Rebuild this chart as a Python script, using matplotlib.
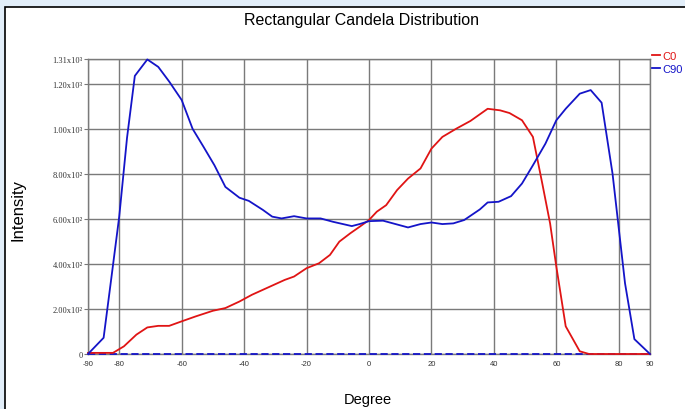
import matplotlib
matplotlib.use("Agg")
import matplotlib.pyplot as plt
from matplotlib.patches import Rectangle

# C90 (blue) - degree / candela
c90_deg = [-90, -85, -82.5, -80, -77.5, -75, -71, -67.5, -64, -60, -56.5, -53, -49.5, -46, -41.5, -38.5,
           -34, -31, -28, -24, -20, -15.5, -11.5, -5.5, -3, 0, 4.5, 8.5, 12.5, 16.5, 20, 23.5, 27, 30.5,
           35.5, 38, 41.5, 45.5, 49, 52.5, 56.5, 60, 63, 67.5, 71, 74.5, 78, 82, 85, 90]
c90_val = [0, 72, 340, 610, 960, 1235, 1308, 1275, 1210, 1128, 1000, 920, 838, 742, 694, 680,
           640, 610, 602, 612, 602, 602, 587, 568, 577, 590, 592, 577, 562, 577, 584, 577, 580, 595,
           642, 673, 676, 701, 757, 838, 934, 1038, 1089, 1156, 1172, 1116, 801, 314, 66, 0]

# C0 (red)
c0_deg = [-90, -82, -78.5, -74.5, -71, -67.5, -64, -60, -55.5, -50, -46, -41.5, -37.5, -34, -30.5, -27,
          -24, -20, -16, -12.5, -9.5, -6, -3, 0, 2.5, 5.5, 9, 12.5, 16.5, 20, 23.5, 28, 32.5, 38,
          42, 45, 49, 52.5, 55.5, 58, 60, 63, 67.5, 70.5, 90]
c0_val = [5, 5, 34, 86, 118, 125, 125, 145, 167, 192, 204, 233, 263, 285, 307, 329,
          344, 381, 403, 440, 499, 536, 565, 595, 632, 661, 728, 779, 824, 912, 964, 1001, 1035, 1089,
          1082, 1070, 1038, 964, 757, 580, 388, 123, 12, 0, 0]

base_deg = [-90, 90]
base_val = [0, 0]

y_ticks = [0, 200, 400, 600, 800, 1000, 1200, 1310]
y_labels = ["0", "2.00x10\u00b2", "4.00x10\u00b2", "6.00x10\u00b2", "8.00x10\u00b2",
            "1.00x10\u00b3", "1.20x10\u00b3", "1.31x10\u00b3"]
x_ticks = [-90, -80, -60, -40, -20, 0, 20, 40, 60, 80, 90]

plt.rcParams['font.family'] = ['Liberation Sans', 'DejaVu Sans']

fig = plt.figure(figsize=(6.85, 4.1), dpi=100)
fig.patch.set_facecolor('#e2eef9')
fig.patches.append(Rectangle((5 / 685, -0.1), 1.2, (410 - 8) / 410 + 0.1, transform=fig.transFigure,
                             facecolor='white', edgecolor='black', lw=1.2, zorder=-5))

ax = fig.add_axes([88 / 685, 55 / 410, 562 / 685, 295 / 410])
ax.set_zorder(2)
ax.set_facecolor('white')

ax.plot(base_deg, base_val, color='#1414c8', lw=1.3, ls=(0, (4, 2)), zorder=3, clip_on=False)
ax.plot(c0_deg, c0_val, color='#e01414', lw=1.3, zorder=4, label='C0', clip_on=False)
ax.plot(c90_deg, c90_val, color='#1414c8', lw=1.3, zorder=5, label='C90', clip_on=False)

ax.set_xlim(-90, 90)
ax.set_ylim(0, 1310)
ax.set_xticks(x_ticks)
ax.set_xticklabels([str(t) for t in x_ticks], fontsize=5.5, color='#333333')
ax.set_yticks(y_ticks)
ax.set_yticklabels(y_labels, fontsize=6, color='#333333', family='Liberation Serif')
ax.tick_params(axis='y', length=3, width=0.8, color='#777777', pad=1)
ax.tick_params(axis='x', length=0, pad=4)
ax.grid(True, color='#7a7a7a', lw=1.0)
for s in ax.spines.values():
    s.set_color('#7a7a7a')
    s.set_linewidth(1.0)

fig.text(362 / 685, 1 - 20 / 410, "Rectangular Candela Distribution", ha='center', va='center', fontsize=11.5)
fig.text(18 / 685, 1 - 210 / 410, "Intensity", ha='center', va='center', rotation=90, fontsize=12)
fig.text(368 / 685, 1 - 400 / 410, "Degree", ha='center', va='center', fontsize=10.5)

leg = ax.legend(loc='upper left', bbox_to_anchor=(1.0, 1.035), frameon=False, handlelength=0.7,
                handletextpad=0.2, borderaxespad=0.1, borderpad=0.1, labelspacing=0.25, fontsize=8,
                labelcolor='linecolor')

fig.savefig("out.png", dpi=100, facecolor=fig.get_facecolor())
